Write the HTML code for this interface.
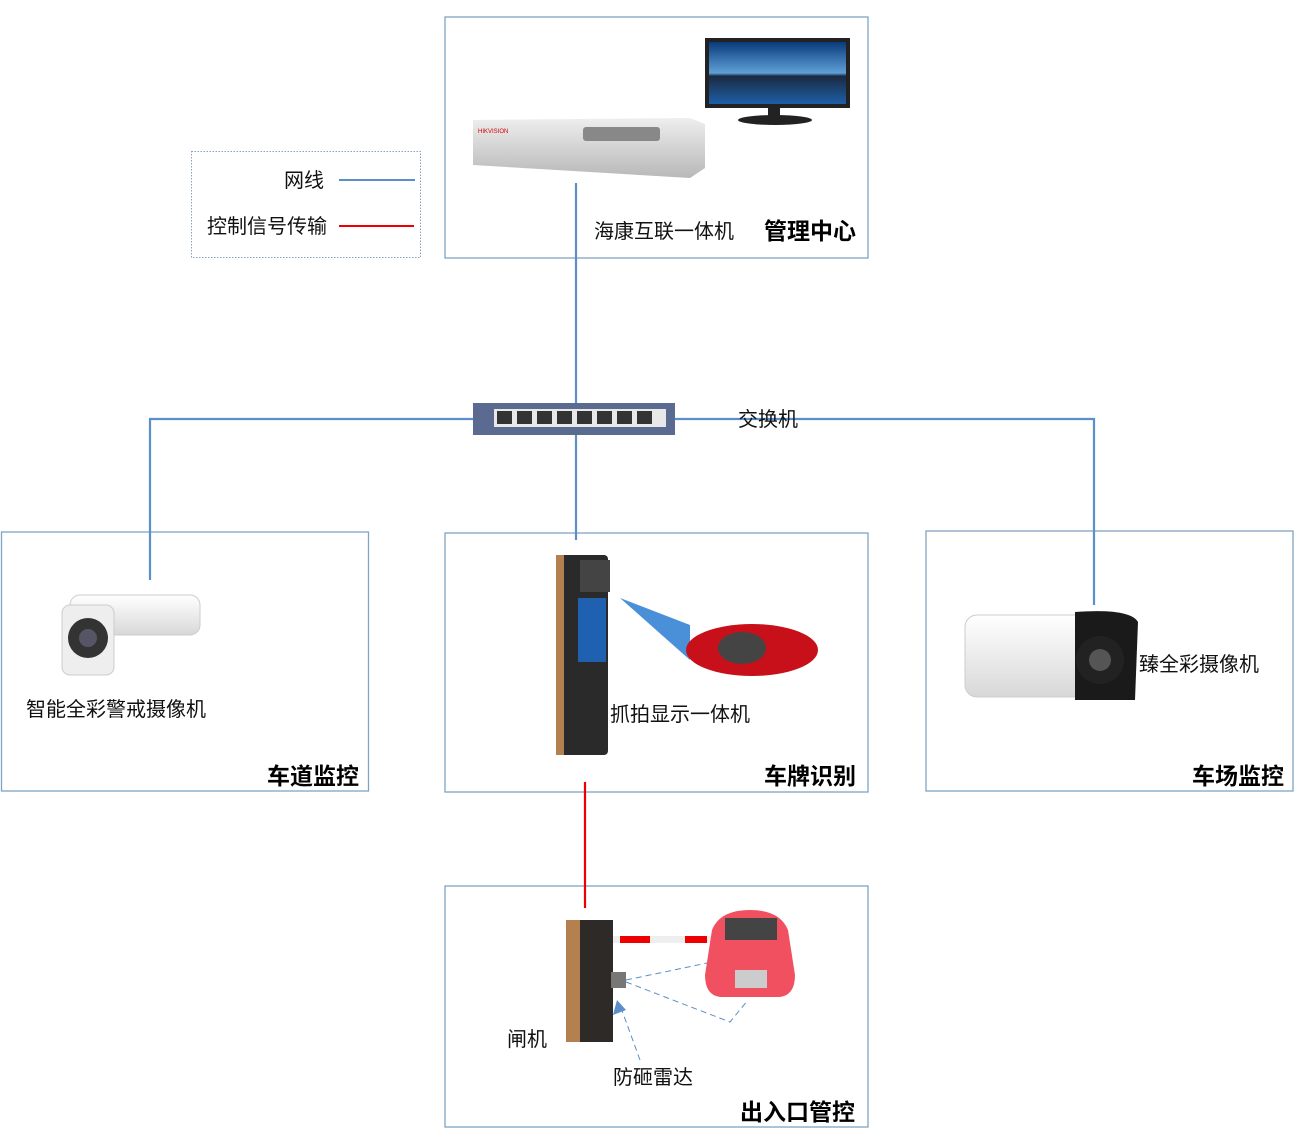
<!DOCTYPE html>
<html><head><meta charset="utf-8"><style>
html,body{margin:0;padding:0;background:#fff;}
svg text{font-family:"Liberation Sans","Noto Sans CJK SC",sans-serif;}
</style></head><body>
<svg width="1298" height="1138" viewBox="0 0 1298 1138" xmlns="http://www.w3.org/2000/svg">
<defs>
<linearGradient id="scr" x1="0" y1="0" x2="0" y2="1"><stop offset="0" stop-color="#0a3a7a"/><stop offset="0.5" stop-color="#5fa0d8"/><stop offset="0.55" stop-color="#1a2a40"/><stop offset="1" stop-color="#1d5fa8"/></linearGradient>
<linearGradient id="silver" x1="0" y1="0" x2="0" y2="1"><stop offset="0" stop-color="#eee"/><stop offset="1" stop-color="#b8b8b8"/></linearGradient>
<linearGradient id="cam" x1="0" y1="0" x2="0" y2="1"><stop offset="0" stop-color="#fff"/><stop offset="1" stop-color="#d8d8d8"/></linearGradient>
</defs>
<g fill="none" stroke="#7fa3c3" stroke-width="1.3">
<rect x="445" y="17" width="423" height="241"/>
<rect x="1.5" y="532" width="367" height="259"/>
<rect x="445" y="533" width="423" height="259"/>
<rect x="926" y="531" width="367" height="260"/>
<rect x="445" y="886" width="423" height="241"/>
</g>
<rect x="191.5" y="151.5" width="229" height="106" fill="none" stroke="#8aa0c0" stroke-dasharray="1.5,1.5"/>
<text x="284" y="187" font-size="20" fill="#111">网线</text>
<line x1="339" y1="180" x2="415" y2="180" stroke="#5b8fc9" stroke-width="2"/>
<text x="207" y="233" font-size="20" fill="#111">控制信号传输</text>
<line x1="339" y1="226" x2="414" y2="226" stroke="#e00" stroke-width="2"/>
<g stroke="#5b8fc9" stroke-width="2.2" fill="none">
<line x1="576" y1="183" x2="576" y2="540"/>
<polyline points="150,580 150,419 475,419"/>
<polyline points="675,419 1094,419 1094,605"/>
</g>
<line x1="585" y1="782" x2="585" y2="908" stroke="#e00" stroke-width="2.2"/>
<rect x="705" y="38" width="145" height="70" fill="#222"/>
<rect x="709" y="42" width="137" height="62" fill="url(#scr)"/>
<rect x="768" y="108" width="12" height="8" fill="#222"/>
<ellipse cx="775" cy="120" rx="37" ry="5" fill="#222"/>
<polygon points="473,120 690,118 705,124 705,168 690,178 473,165" fill="url(#silver)"/>
<rect x="583" y="127" width="77" height="14" rx="3" fill="#888"/>
<text x="478" y="133" font-size="6" fill="#c00">HIKVISION</text>
<rect x="473" y="403" width="202" height="32" fill="#5a6a90"/>
<rect x="494" y="409" width="172" height="18" fill="#e8e8e8"/>
<g fill="#333"><rect x="497" y="411" width="15" height="13"/><rect x="517" y="411" width="15" height="13"/><rect x="537" y="411" width="15" height="13"/><rect x="557" y="411" width="15" height="13"/><rect x="577" y="411" width="15" height="13"/><rect x="597" y="411" width="15" height="13"/><rect x="617" y="411" width="15" height="13"/><rect x="637" y="411" width="15" height="13"/></g>
<text x="738" y="426" font-size="20" fill="#111">交换机</text>
<text x="594" y="238" font-size="20" fill="#111">海康互联一体机</text>
<text x="764" y="239" font-size="23" font-weight="bold" fill="#000">管理中心</text>
<rect x="70" y="595" width="130" height="40" rx="10" fill="url(#cam)" stroke="#ccc"/>
<rect x="62" y="605" width="52" height="70" rx="8" fill="#eee" stroke="#ccc"/>
<circle cx="88" cy="638" r="20" fill="#333"/><circle cx="88" cy="638" r="9" fill="#556"/>
<text x="26" y="716" font-size="20" fill="#111">智能全彩警戒摄像机</text>
<text x="267" y="784" font-size="23" font-weight="bold" fill="#000">车道监控</text>
<rect x="556" y="555" width="52" height="200" rx="4" fill="#2a2a2a"/>
<rect x="556" y="555" width="8" height="200" fill="#b5804f"/>
<rect x="578" y="598" width="28" height="64" fill="#2060b0"/>
<rect x="580" y="560" width="30" height="32" fill="#444"/>
<polygon points="620,598 690,625 690,660" fill="#4a90d9"/>
<ellipse cx="752" cy="650" rx="66" ry="26" fill="#c8101a"/>
<ellipse cx="742" cy="648" rx="24" ry="16" fill="#444"/>
<text x="610" y="721" font-size="20" fill="#111">抓拍显示一体机</text>
<text x="764" y="784" font-size="23" font-weight="bold" fill="#000">车牌识别</text>
<rect x="965" y="615" width="125" height="82" rx="12" fill="url(#cam)" stroke="#ccc"/>
<path d="M1075,612 Q1130,608 1138,622 L1135,700 L1075,700 Z" fill="#1a1a1a"/>
<circle cx="1100" cy="660" r="24" fill="#222"/><circle cx="1100" cy="660" r="11" fill="#555"/>
<text x="1139" y="671" font-size="20" fill="#111">臻全彩摄像机</text>
<text x="1192" y="784" font-size="23" font-weight="bold" fill="#000">车场监控</text>
<rect x="566" y="920" width="47" height="122" fill="#b5804f"/>
<rect x="580" y="920" width="33" height="122" fill="#2e2a28"/>
<rect x="613" y="936" width="100" height="7" fill="#eee"/>
<rect x="620" y="936" width="30" height="7" fill="#e00"/><rect x="685" y="936" width="22" height="7" fill="#e00"/>
<rect x="611" y="972" width="15" height="16" fill="#777"/>
<path d="M626,980 L712,962 M626,982 L730,1022 L748,1000" stroke="#5b8fc9" stroke-dasharray="6,4" fill="none"/>
<line x1="640" y1="1060" x2="620" y2="1005" stroke="#5b8fc9" stroke-dasharray="6,4"/>
<polygon points="617,1000 613,1015 626,1010" fill="#5b8fc9"/>
<path d="M712,930 Q720,910 750,910 Q780,910 788,930 L795,975 Q795,995 780,997 L720,997 Q705,995 705,975 Z" fill="#f05060"/>
<rect x="725" y="918" width="52" height="22" fill="#444"/>
<rect x="735" y="970" width="32" height="18" fill="#ccc"/>
<text x="507" y="1046" font-size="20" fill="#111">闸机</text>
<text x="613" y="1084" font-size="20" fill="#111">防砸雷达</text>
<text x="740" y="1120" font-size="23" font-weight="bold" fill="#000">出入口管控</text>
</svg>
</body></html>
